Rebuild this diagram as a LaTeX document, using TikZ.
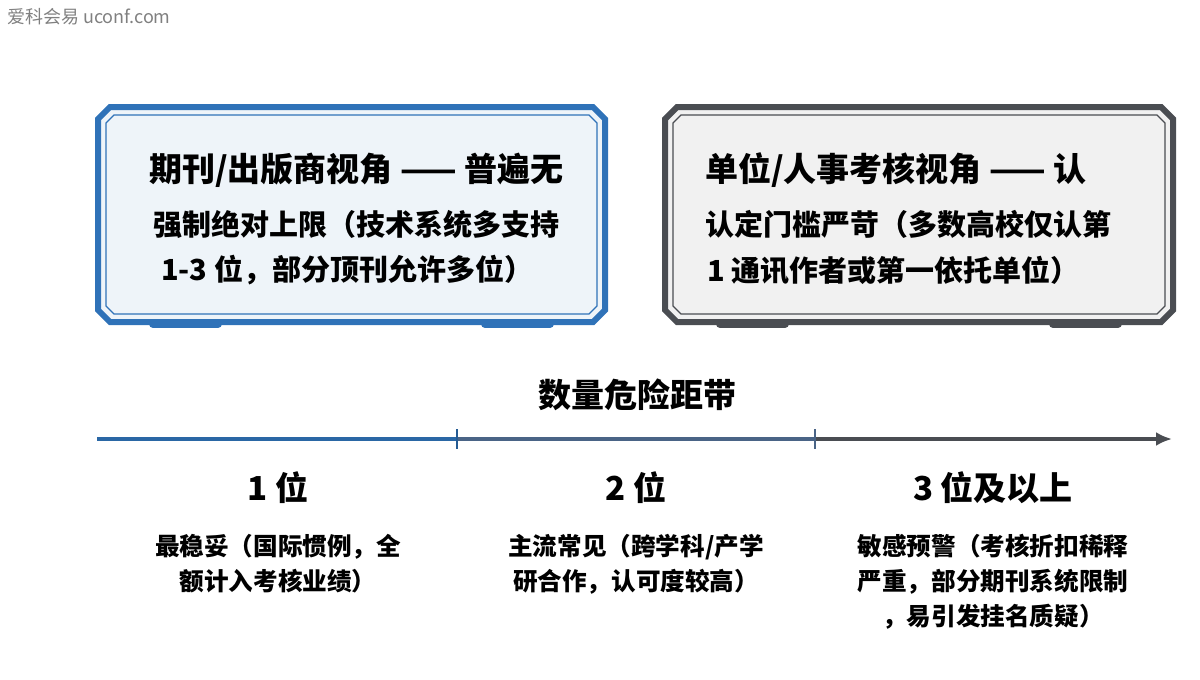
\documentclass[tikz,border=0pt]{standalone}
\usepackage{fontspec}
\newfontfamily\cjk{Noto Sans CJK SC}
\usetikzlibrary{positioning, arrows.meta, calc}
\definecolor{boxblue}{HTML}{2F72B8}
\definecolor{boxgray}{HTML}{4A4D52}
\definecolor{midline}{HTML}{4A6486}
\newcommand{\chambox}[5]{% x1,y1,x2,y2,colour
  \path[fill=#5!8!white, draw=#5, line width=3pt]
    (#1+12,#2) -- (#3-12,#2) -- (#3,#2+12) -- (#3,#4-12) -- (#3-12,#4)
    -- (#1+12,#4) -- (#1,#4-12) -- (#1,#2+12) -- cycle;
  \draw[#5, line width=0.6pt]
    (#1+16,#2+8) -- (#3-16,#2+8) -- (#3-8,#2+16) -- (#3-8,#4-16) -- (#3-16,#4-8)
    -- (#1+16,#4-8) -- (#1+8,#4-16) -- (#1+8,#2+16) -- cycle;
  \draw[#5, line width=4pt, line cap=round] (#1+55,#4+2) -- (#1+120,#4+2);
  \draw[#5, line width=4pt, line cap=round] (#3-120,#4+2) -- (#3-55,#4+2);
}
\begin{document}
\begin{tikzpicture}[x=0.5pt, y=-0.5pt, font=\cjk,
    title/.style={font=\cjk\bfseries\fontsize{16.5}{19}\selectfont, anchor=west},
    line/.style={font=\cjk\bfseries\fontsize{14.5}{17}\selectfont, anchor=west},
    head/.style={font=\cjk\bfseries\fontsize{16.5}{19}\selectfont},
    body/.style={font=\cjk\bfseries\fontsize{12.3}{17.5}\selectfont, align=center}]
  \useasboundingbox (0,0) rectangle (1200,680);
  \node[anchor=west, text=gray, font=\cjk\fontsize{9}{10}\selectfont] (mark) at (0,17) {爱科会易 uconf.com};

  % two views
  \chambox{98}{107}{605}{322}{boxblue}
  \chambox{665}{107}{1173}{322}{boxgray}
  \node[title] (pubA) at (142,170) {期刊/出版商视角 —— 普遍无};
  \node[line] (pubB) at (146,224) {强制绝对上限（技术系统多支持};
  \node[line] (pubC) at (154,270) {1-3 位，部分顶刊允许多位）};
  \node[title] (orgA) at (698,170) {单位/人事考核视角 —— 认};
  \node[line] (orgB) at (698,224) {认定门槛严苛（多数高校仅认第};
  \node[line] (orgC) at (700,270) {1 通讯作者或第一依托单位）};

  % axis
  \node[head] (band) at (637,395) {数量危险距带};
  \coordinate (a0) at (97,439);
  \coordinate (a1) at (457,439);
  \coordinate (a2) at (815,439);
  \coordinate (a3) at (1172,439);
  \draw[boxblue!90!black, line width=1.6pt] (a0) -- (a1);
  \draw[midline, line width=1.6pt] (a1) -- (a2);
  \draw[boxgray, line width=1.6pt, -{Latex[length=8pt,width=7pt]}] (a2) -- (a3);
  \draw[boxblue!80!black, line width=0.8pt] ($(a1)+(0,-10)$) -- ($(a1)+(0,10)$);
  \draw[midline, line width=0.8pt] ($(a2)+(0,-10)$) -- ($(a2)+(0,10)$);

  % levels
  \node[head] (one) at (278,488) {1 位};
  \node[head] (two) at (636,488) {2 位};
  \node[head] (three) at (993,488) {3 位及以上};
  \node[body, below=8pt of one] (oneT) {最稳妥（国际惯例，全\\额计入考核业绩）};
  \node[body, below=8pt of two] (twoT) {主流常见（跨学科/产学\\研合作，认可度较高）};
  \node[body, below=8pt of three] (threeT) {敏感预警（考核折扣稀释\\严重，部分期刊系统限制\\，易引发挂名质疑）};
\end{tikzpicture}
\end{document}
